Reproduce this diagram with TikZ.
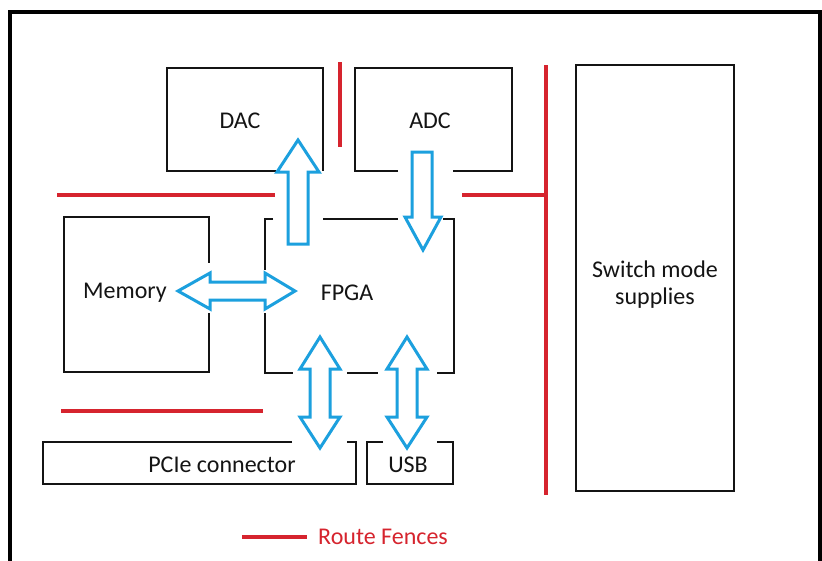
\documentclass[tikz,border=0pt]{standalone}
\usepackage{fontspec}
\setmainfont{Carlito}
\definecolor{fence}{RGB}{214,36,46}
\definecolor{bus}{RGB}{28,160,222}
\definecolor{ink}{RGB}{20,20,20}
\begin{document}
\begin{tikzpicture}[x=1pt,y=-1pt,
  boxline/.style={draw=ink,line width=1.5pt,line join=miter},
  fenceline/.style={draw=fence,line width=4pt},
  busarrow/.style={draw=bus,fill=white,line width=3pt,line join=miter},
  label/.style={text=ink,font=\fontsize{24}{27}\selectfont,inner sep=0pt,align=center}]
\useasboundingbox (0,0) rectangle (822,560);
\fill[white] (0,0) rectangle (822,560);
% outer frame
\draw[black,line width=4pt] (9.5,565) -- (9.5,11.5) -- (819.5,11.5) -- (819.5,565);
% box labels
\node[label] (dac) at (240,121) {DAC};
\node[label] (adc) at (430,121) {ADC};
\node[label] (mem) at (125,293) {Memory};
\node[label] (fpga) at (347,293) {FPGA};
\node[label] (pcie) at (222,465) {PCIe connector};
\node[label] (usb) at (408,465) {USB};
\node[label] (sms) at (655,284.5) {Switch mode\\supplies};
% box outlines (broken where buses cross)
\draw[boxline] (276,171) -- (167,171) -- (167,68) -- (323,68) -- (323,171);
\draw[boxline] (398,171) -- (355,171) -- (355,68) -- (512,68) -- (512,171) -- (453,171);
\draw[boxline] (209,313) -- (209,372) -- (64,372) -- (64,217) -- (209,217) -- (209,263);
\draw[boxline] (273,219) -- (265,219) -- (265,270);
\draw[boxline] (265,313) -- (265,373) -- (293,373);
\draw[boxline] (347,373) -- (378,373);
\draw[boxline] (437,373) -- (454,373) -- (454,219) -- (443,219);
\draw[boxline] (323,219) -- (398,219);
\draw[boxline] (292,442) -- (43,442) -- (43,484) -- (356,484) -- (356,442) -- (347,442);
\draw[boxline] (383,442) -- (367,442) -- (367,484) -- (453,484) -- (453,442) -- (437,442);
\draw[boxline] (576,65) rectangle (734,491);
% route fences
\draw[fenceline] (339.5,62) -- (339.5,147);
\draw[fenceline] (57,195) -- (275,195);
\draw[fenceline] (462,195) -- (546,195);
\draw[fenceline] (546,65) -- (546,495);
\draw[fenceline] (61,411) -- (263,411);
% buses
\draw[busarrow] (298,140) -- (319,172) -- (308,172) -- (308,244) -- (288,244) -- (288,172) -- (277,172) -- cycle;
\draw[busarrow] (412,152) -- (432,152) -- (432,217) -- (441,217) -- (423,250) -- (405,217) -- (412,217) -- cycle;
\draw[busarrow] (178,291) -- (210,273) -- (210,282) -- (265,282) -- (265,273) -- (295,291) -- (265,309) -- (265,300) -- (210,300) -- (210,309) -- cycle;
\draw[busarrow] (320,337) -- (340,369) -- (330,369) -- (330,417) -- (340,417) -- (320,448) -- (300,417) -- (310,417) -- (310,369) -- (300,369) -- cycle;
\draw[busarrow] (407,337) -- (427,369) -- (417,369) -- (417,417) -- (427,417) -- (407,448) -- (387,417) -- (397,417) -- (397,369) -- (387,369) -- cycle;
% legend
\draw[fenceline] (242,537) coordinate (lg1) -- (307,537) coordinate (lg2);
\node[label,text=fence,anchor=west] (legend) at (318,537) {Route Fences};
\end{tikzpicture}
\end{document}
